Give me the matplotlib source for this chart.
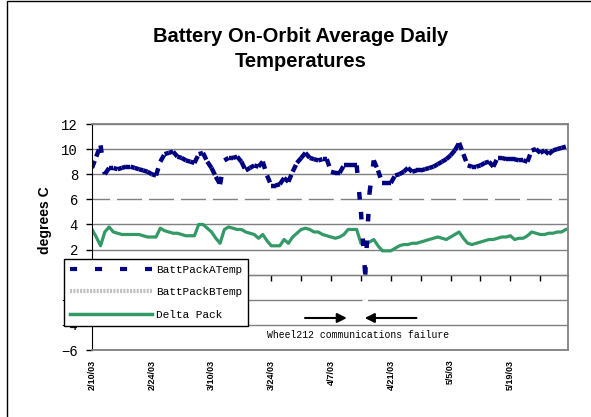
import numpy as np
import pandas as pd
import matplotlib
matplotlib.use("Agg")
import matplotlib.pyplot as plt
import matplotlib.dates as mdates
from matplotlib.collections import LineCollection
from matplotlib.lines import Line2D
from matplotlib.patches import Rectangle

# ── data: daily averages from 2/10/03 ─────────────────────────────────────────
START = "2003-02-10"

batt_a = [
    8.5, 9.4, 10.3, 8.0, 8.5, 8.5, 8.4, 8.5, 8.6, 8.6,
    8.5, 8.4, 8.3, 8.2, 8.0, 7.9, 9.0, 9.6, 9.7, 9.8,
    9.4, 9.3, 9.1, 9.0, 8.9, 9.6, 9.7, 9.0, 8.5, 7.8,
    7.2, 9.1, 9.3, 9.3, 9.4, 9.0, 8.3, 8.5, 8.7, 8.6,
    9.0, 7.9, 7.1, 7.1, 7.2, 7.7, 7.4, 8.2, 8.9, 9.3,
    9.7, 9.3, 9.2, 9.1, 9.2, 9.2, 8.2, 8.1, 8.1, 8.7,
    8.7, 8.7, 8.7, 5.0, 0.0, 6.5, 9.1, 8.3, 7.3, 7.3,
    7.3, 7.9, 8.0, 8.2, 8.5, 8.2, 8.3, 8.3, 8.4, 8.5,
    8.6, 8.8, 9.0, 9.2, 9.5, 9.9, 10.5, 9.6, 8.7, 8.6,
    8.6, 8.7, 8.9, 9.0, 8.6, 9.3, 9.3, 9.2, 9.2, 9.2,
    9.1, 9.1, 9.0, 9.9, 10.0, 9.7, 9.9, 9.6, 9.9, 10.0,
    10.1, 10.2,
]
batt_b = [
    4.6, 6.0, 6.0, 6.0, 6.0, 6.0, 6.0, 6.0, 6.0, 6.0,
    6.0, 6.0, 6.0, 6.0, 6.0, 6.0, 6.0, 6.0, 6.0, 6.0,
    6.0, 6.0, 6.0, 6.0, 6.0, 6.0, 6.0, 6.0, 6.0, 6.0,
    6.0, 6.0, 6.0, 6.0, 6.0, 6.0, 6.0, 6.0, 6.0, 6.0,
    6.0, 6.0, 6.0, 6.0, 6.0, 6.0, 6.0, 6.0, 6.0, 6.0,
    6.0, 6.0, 6.0, 6.0, 6.0, 6.0, 6.0, 6.0, 6.0, 6.0,
    6.0, 6.0, 6.0, 6.0, -6.0, 6.0, 6.0, 6.0, 6.0, 6.0,
    6.0, 6.0, 6.0, 6.0, 6.0, 6.0, 6.0, 6.0, 6.0, 6.0,
    6.0, 6.0, 6.0, 6.0, 6.0, 6.0, 6.0, 6.0, 6.0, 6.0,
    6.0, 6.0, 6.0, 6.0, 6.0, 6.0, 6.0, 6.0, 6.0, 6.0,
    6.0, 6.0, 6.0, 6.0, 6.0, 6.0, 6.0, 6.0, 6.0, 6.0,
    6.0, 6.7,
]
delta = [
    3.6, 3.0, 2.3, 3.4, 3.8, 3.4, 3.3, 3.2, 3.2, 3.2,
    3.2, 3.2, 3.1, 3.0, 3.0, 3.0, 3.7, 3.5, 3.4, 3.3,
    3.3, 3.2, 3.1, 3.1, 3.1, 4.0, 4.0, 3.7, 3.4, 2.9,
    2.5, 3.6, 3.8, 3.7, 3.6, 3.6, 3.4, 3.3, 3.2, 2.9,
    3.2, 2.7, 2.3, 2.3, 2.3, 2.8, 2.5, 3.0, 3.3, 3.6,
    3.7, 3.6, 3.4, 3.4, 3.2, 3.1, 3.0, 2.9, 3.0, 3.2,
    3.6, 3.6, 3.6, 2.5, 2.4, 2.6, 2.8, 2.3, 1.9, 1.9,
    1.9, 2.1, 2.3, 2.4, 2.4, 2.5, 2.5, 2.6, 2.7, 2.8,
    2.9, 3.0, 2.9, 2.8, 3.0, 3.2, 3.4, 2.9, 2.5, 2.4,
    2.5, 2.6, 2.7, 2.8, 2.8, 2.9, 3.0, 3.0, 3.1, 2.8,
    2.9, 2.9, 3.1, 3.4, 3.3, 3.2, 3.2, 3.3, 3.3, 3.4,
    3.4, 3.6,
]
series_names = ["BattPackATemp", "BattPackBTemp", "Delta Pack"]
tick_dates = ["2003-02-10", "2003-02-24", "2003-03-10", "2003-03-24",
              "2003-04-07", "2003-04-21", "2003-05-05", "2003-05-19"]
tick_labels = ["2/10/03", "2/24/03", "3/10/03", "3/24/03",
               "4/7/03", "4/21/03", "5/5/03", "5/19/03"]
failure_label = "Wheel212 communications failure"

NAVY = "#000080"
GREEN = "#339966"
MONO = "Liberation Mono"
SANS = "Liberation Sans"

dates = pd.date_range(START, periods=len(batt_a), freq="D")
x = mdates.date2num(dates)
x0 = x[0]

# ── figure ───────────────────────────────────────────────────────────────────
fig = plt.figure(figsize=(5.91, 4.17), dpi=100)
fig.add_artist(Rectangle((7 / 591, -0.1), 1.0, 1.1 - 1.5 / 417,
                         transform=fig.transFigure, fill=False,
                         edgecolor="black", lw=1))

ax = fig.add_axes([92 / 591, 1 - 350 / 417, (568 - 92) / 591, (350 - 124) / 417])
ax.set_xlim(x0, x0 + 111.5)
ax.set_ylim(-6, 12)

ax.set_yticks(np.arange(-6, 13, 2))
ax.yaxis.grid(True, color="#808080", lw=1)
ax.set_axisbelow(True)
ax.tick_params(axis="y", direction="out", length=4, width=1, color="black", pad=6,
               labelsize=10)
for lab in ax.get_yticklabels():
    lab.set_family(MONO)

for side in ["top", "right", "bottom"]:
    ax.spines[side].set_color("#808080")
    ax.spines[side].set_linewidth(1.3)
ax.spines["left"].set_color("black")

ax.set_xticks(mdates.date2num(pd.to_datetime(tick_dates)))
ax.set_xticklabels(tick_labels, rotation=90, fontsize=6.5, fontweight="bold",
                   family=SANS, va="top")
ax.tick_params(axis="x", length=0, pad=7)

# category axis crossing at zero
zero_axis = ax.secondary_xaxis(6 / 18)
zero_axis.set_xticks(mdates.date2num(pd.date_range(START, periods=17, freq="7D")))
zero_axis.set_xticklabels([])
zero_axis.tick_params(direction="out", length=4, width=1, color="black")
zero_axis.spines["bottom"].set_color("black")

# series
ax.plot(x, batt_b, color="white", lw=2, linestyle=(0, (2.5, 9)), zorder=1.8)
ax.plot(x, delta, color=GREEN, lw=2.3, zorder=2.1, solid_joinstyle="round")
pts = np.column_stack([x, batt_a])
segs = np.stack([pts[:-1], pts[1:]], axis=1)
ax.add_collection(LineCollection(segs, colors=NAVY, linewidths=3.2,
                                 linestyles=[(0, (1.7, 4.3))], zorder=2.2))

# failure annotation
arrow_y = -3.45
ax.annotate("", xy=(x0 + 59.7, arrow_y), xytext=(x0 + 49.9, arrow_y),
            arrowprops=dict(arrowstyle="-|>", color="black", lw=1.5,
                            mutation_scale=14, shrinkA=0, shrinkB=0))
ax.annotate("", xy=(x0 + 63.9, arrow_y), xytext=(x0 + 76.0, arrow_y),
            arrowprops=dict(arrowstyle="-|>", color="black", lw=1.5,
                            mutation_scale=14, shrinkA=0, shrinkB=0))
ax.text(x0 + 62.3, -4.8, failure_label, ha="center", va="center",
        family=MONO, fontsize=7)

# legend
handles = [
    Line2D([], [], color=NAVY, lw=3, linestyle=(0, (1.7, 4.3))),
    Line2D([], [], color="#c0c0c0", lw=3, linestyle=(0, (0.5, 0.3))),
    Line2D([], [], color=GREEN, lw=2.5),
]
leg = fig.legend(handles, series_names, loc="upper left",
                 bbox_to_anchor=(64 / 591, 1 - 259 / 417),
                 prop={"family": MONO, "size": 8}, frameon=True, fancybox=False,
                 edgecolor="black", framealpha=1, handlelength=7.4,
                 handletextpad=0.3, labelspacing=1.1, borderpad=0.55,
                 borderaxespad=0)
leg.get_frame().set_linewidth(1)

# titles
fig.text(301 / 591, 1 - 49 / 417, "Battery On-Orbit Average Daily\nTemperatures",
         ha="center", va="center", family=SANS, fontweight="bold", fontsize=14.5,
         linespacing=1.45)
fig.text(45 / 591, 1 - 220 / 417, "degrees C", rotation=90, ha="center",
         va="center", family=SANS, fontweight="bold", fontsize=10)

fig.savefig("out.png", dpi=100)
